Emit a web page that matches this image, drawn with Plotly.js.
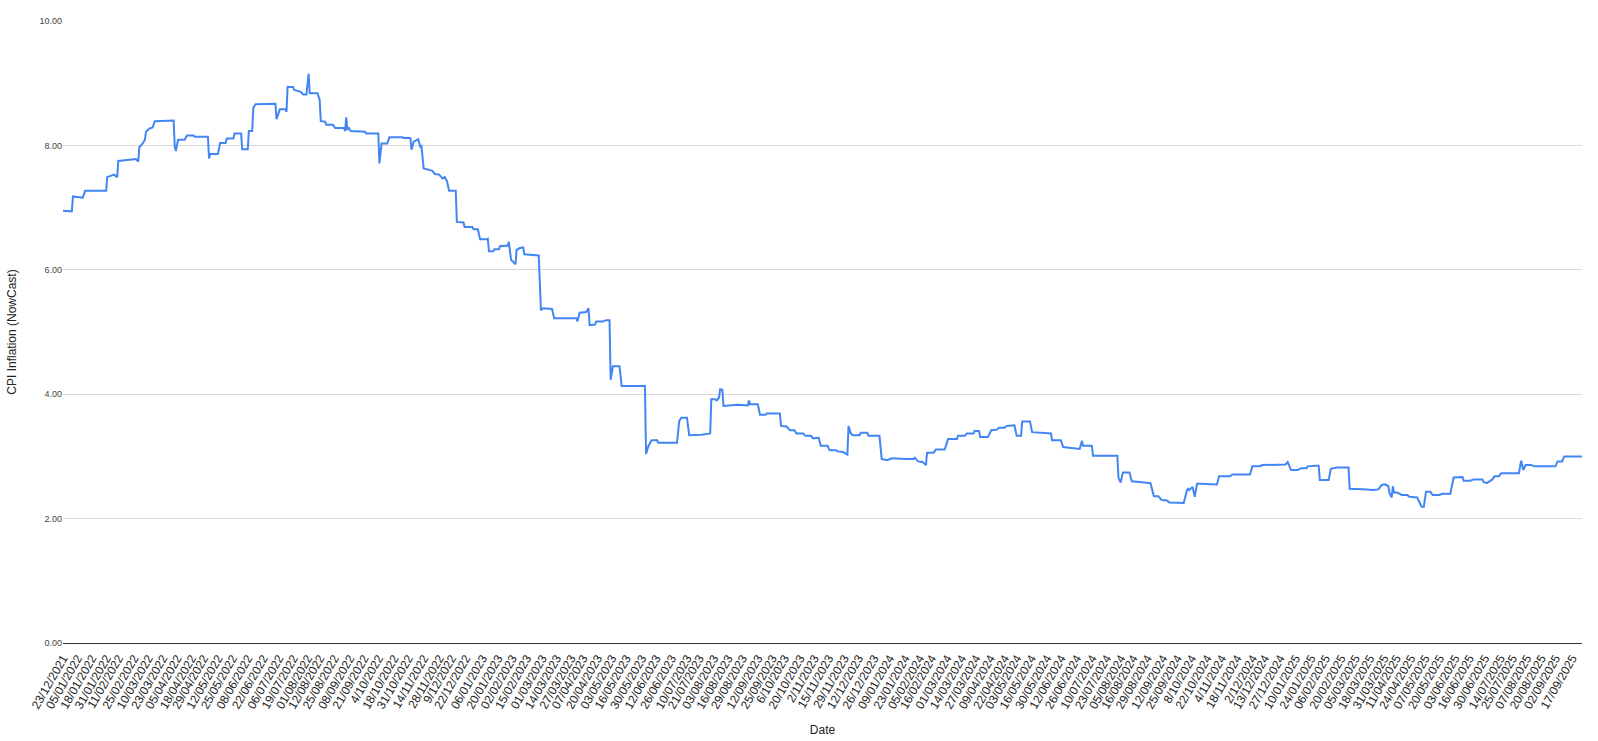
<!DOCTYPE html>
<html>
<head>
<meta charset="utf-8">
<script src="https://cdn.plot.ly/plotly-3.0.1.min.js"></script>
<style>
  html, body { margin: 0; padding: 0; background: #ffffff; }
  #chart { width: 1598px; height: 741px; }
</style>
</head>
<body>
<div id="chart"></div>
<script>
const dates = [
  "2021-12-23","2021-12-31","2022-01-01","2022-01-10","2022-01-12","2022-01-31","2022-02-01","2022-02-07","2022-02-10","2022-02-11",
  "2022-02-27","2022-03-01","2022-03-02","2022-03-05","2022-03-07","2022-03-08","2022-03-11","2022-03-14","2022-03-16","2022-04-02",
  "2022-04-03","2022-04-04","2022-04-06","2022-04-12","2022-04-14","2022-04-20","2022-04-21","2022-05-03","2022-05-04","2022-05-05",
  "2022-05-12","2022-05-14","2022-05-19","2022-05-20","2022-05-26","2022-05-27","2022-06-02","2022-06-03","2022-06-08","2022-06-09",
  "2022-06-12","2022-06-13","2022-06-15","2022-07-03","2022-07-04","2022-07-07","2022-07-12","2022-07-13","2022-07-14","2022-07-19",
  "2022-07-20","2022-07-26","2022-07-28","2022-07-31","2022-08-02","2022-08-03","2022-08-10","2022-08-12","2022-08-13","2022-08-17",
  "2022-08-18","2022-08-24","2022-08-26","2022-09-03","2022-09-04","2022-09-05","2022-09-06","2022-09-07","2022-09-09","2022-09-22",
  "2022-09-23","2022-10-04","2022-10-05","2022-10-07","2022-10-12","2022-10-14","2022-10-26","2022-10-27","2022-11-02","2022-11-03",
  "2022-11-05","2022-11-08","2022-11-09","2022-11-11","2022-11-12","2022-11-14","2022-11-22","2022-11-24","2022-11-28","2022-12-01",
  "2022-12-03","2022-12-05","2022-12-07","2022-12-13","2022-12-14","2022-12-20","2022-12-21","2022-12-28","2022-12-29","2023-01-02",
  "2023-01-04","2023-01-10","2023-01-11","2023-01-12","2023-01-16","2023-01-17","2023-01-21","2023-01-22","2023-01-29","2023-01-30",
  "2023-02-01","2023-02-05","2023-02-06","2023-02-09","2023-02-12","2023-02-13","2023-02-25","2023-02-26","2023-02-28","2023-03-02",
  "2023-03-10","2023-03-12","2023-04-01","2023-04-02","2023-04-04","2023-04-10","2023-04-12","2023-04-13","2023-04-18","2023-04-19",
  "2023-04-25","2023-04-28","2023-05-01","2023-05-02","2023-05-04","2023-05-10","2023-05-12","2023-06-02","2023-06-03","2023-06-05",
  "2023-06-08","2023-06-13","2023-06-14","2023-07-01","2023-07-03","2023-07-05","2023-07-10","2023-07-12","2023-07-23","2023-07-31",
  "2023-08-01","2023-08-04","2023-08-06","2023-08-08","2023-08-09","2023-08-11","2023-08-12","2023-08-25","2023-09-03","2023-09-04",
  "2023-09-05","2023-09-12","2023-09-14","2023-09-19","2023-09-20","2023-10-02","2023-10-03","2023-10-08","2023-10-11","2023-10-15",
  "2023-10-17","2023-10-23","2023-10-25","2023-10-30","2023-11-01","2023-11-06","2023-11-08","2023-11-14","2023-11-16","2023-11-22",
  "2023-11-23","2023-11-28","2023-12-02","2023-12-03","2023-12-05","2023-12-07","2023-12-13","2023-12-14","2023-12-20","2023-12-21",
  "2023-12-31","2024-01-02","2024-01-07","2024-01-11","2024-01-24","2024-01-31","2024-02-01","2024-02-04","2024-02-08","2024-02-11",
  "2024-02-12","2024-02-18","2024-02-20","2024-02-28","2024-03-02","2024-03-10","2024-03-11","2024-03-17","2024-03-19","2024-03-25",
  "2024-03-26","2024-03-30","2024-03-31","2024-04-07","2024-04-10","2024-04-15","2024-04-17","2024-04-22","2024-04-24","2024-05-01",
  "2024-05-03","2024-05-07","2024-05-08","2024-05-15","2024-05-17","2024-05-24","2024-05-31","2024-06-03","2024-06-04","2024-06-12",
  "2024-06-14","2024-06-20","2024-06-29","2024-07-01","2024-07-02","2024-07-10","2024-07-11","2024-08-02","2024-08-03","2024-08-05",
  "2024-08-07","2024-08-13","2024-08-15","2024-08-22","2024-08-30","2024-09-01","2024-09-04","2024-09-08","2024-09-11","2024-09-16",
  "2024-09-18","2024-09-25","2024-10-01","2024-10-04","2024-10-05","2024-10-06","2024-10-09","2024-10-11","2024-10-13","2024-10-16",
  "2024-10-31","2024-11-02","2024-11-12","2024-11-14","2024-11-30","2024-12-02","2024-12-09","2024-12-11","2025-01-01","2025-01-03",
  "2025-01-06","2025-01-12","2025-01-15","2025-01-20","2025-01-21","2025-01-28","2025-01-31","2025-02-01","2025-02-09","2025-02-11",
  "2025-02-16","2025-02-27","2025-02-28","2025-03-12","2025-03-21","2025-03-26","2025-03-29","2025-04-01","2025-04-04","2025-04-05",
  "2025-04-07","2025-04-08","2025-04-09","2025-04-12","2025-04-16","2025-04-21","2025-04-23","2025-04-30","2025-05-02","2025-05-04",
  "2025-05-06","2025-05-08","2025-05-12","2025-05-14","2025-05-20","2025-05-23","2025-05-30","2025-06-02","2025-06-10","2025-06-11",
  "2025-06-17","2025-06-20","2025-06-28","2025-06-29","2025-07-02","2025-07-05","2025-07-07","2025-07-09","2025-07-13","2025-07-15",
  "2025-07-31","2025-08-02","2025-08-04","2025-08-06","2025-08-11","2025-08-14","2025-09-02","2025-09-04","2025-09-08","2025-09-10",
  "2025-09-26"
];

// CPI inflation (NowCast) values, %
const cpiNowcast = [
  6.95,6.94,7.18,7.16,7.27,7.27,7.49,7.53,7.49,7.75,
  7.78,7.74,7.97,8.03,8.09,8.22,8.27,8.29,8.39,8.40,
  7.98,7.91,8.09,8.09,8.16,8.16,8.14,8.14,7.79,7.86,
  7.86,8.04,8.04,8.11,8.11,8.19,8.19,7.94,7.94,8.23,
  8.23,8.60,8.66,8.67,8.42,8.58,8.58,8.54,8.94,8.94,
  8.89,8.86,8.82,8.82,9.15,8.84,8.84,8.73,8.39,8.38,
  8.33,8.33,8.28,8.28,8.23,8.45,8.25,8.29,8.23,8.22,
  8.19,8.19,7.71,8.03,8.03,8.13,8.13,8.12,8.12,7.93,
  8.06,8.09,8.10,7.98,7.99,7.63,7.59,7.54,7.53,7.47,
  7.49,7.43,7.27,7.27,6.77,6.76,6.69,6.69,6.65,6.65,
  6.49,6.49,6.50,6.30,6.30,6.33,6.33,6.38,6.39,6.45,
  6.16,6.09,6.32,6.35,6.36,6.25,6.24,6.23,5.35,5.38,
  5.37,5.22,5.22,5.17,5.31,5.32,5.38,5.11,5.12,5.17,
  5.17,5.19,5.19,4.23,4.45,4.45,4.13,4.13,3.04,3.16,
  3.26,3.26,3.22,3.22,3.57,3.62,3.62,3.34,3.35,3.37,
  3.92,3.92,3.90,3.95,4.08,4.07,3.81,3.83,3.82,3.90,
  3.84,3.84,3.67,3.67,3.69,3.69,3.49,3.48,3.42,3.42,
  3.37,3.37,3.33,3.33,3.29,3.30,3.17,3.17,3.10,3.10,
  3.08,3.07,3.03,3.49,3.37,3.34,3.34,3.38,3.38,3.33,
  3.33,2.96,2.94,2.97,2.96,2.96,2.98,2.92,2.91,2.86,
  3.06,3.06,3.11,3.11,3.28,3.28,3.33,3.33,3.37,3.37,
  3.41,3.41,3.31,3.31,3.42,3.43,3.46,3.46,3.49,3.50,
  3.33,3.33,3.56,3.56,3.39,3.38,3.37,3.37,3.26,3.26,
  3.15,3.14,3.12,3.25,3.17,3.17,3.01,3.01,2.66,2.58,
  2.74,2.74,2.60,2.59,2.57,2.57,2.36,2.36,2.30,2.29,
  2.26,2.26,2.25,2.46,2.48,2.46,2.51,2.35,2.56,2.56,
  2.55,2.68,2.68,2.71,2.71,2.84,2.84,2.86,2.87,2.91,
  2.78,2.78,2.81,2.81,2.84,2.85,2.85,2.62,2.62,2.80,
  2.82,2.82,2.48,2.47,2.46,2.47,2.54,2.55,2.52,2.41,
  2.34,2.52,2.42,2.42,2.38,2.38,2.35,2.34,2.25,2.19,
  2.19,2.43,2.43,2.38,2.38,2.40,2.40,2.66,2.67,2.61,
  2.61,2.63,2.63,2.59,2.57,2.61,2.63,2.68,2.68,2.73,
  2.73,2.93,2.78,2.86,2.86,2.84,2.84,2.92,2.92,3.00,
  3.00
];

// Category tick labels shown on the x axis
const tickLabels = [
  "23/12/2021","05/01/2022","18/01/2022","31/01/2022","11/02/2022","25/02/2022","10/03/2022","23/03/2022","05/04/2022","18/04/2022",
  "29/04/2022","12/05/2022","25/05/2022","08/06/2022","22/06/2022","06/07/2022","19/07/2022","01/08/2022","12/08/2022","25/08/2022",
  "08/09/2022","21/09/2022","4/10/2022","18/10/2022","31/10/2022","14/11/2022","28/11/2022","9/12/2022","22/12/2022","06/01/2023",
  "20/01/2023","02/02/2023","15/02/2023","01/03/2023","14/03/2023","27/03/2023","07/04/2023","20/04/2023","03/05/2023","16/05/2023",
  "30/05/2023","12/06/2023","26/06/2023","10/07/2023","21/07/2023","03/08/2023","16/08/2023","29/08/2023","12/09/2023","25/09/2023",
  "6/10/2023","20/10/2023","2/11/2023","15/11/2023","29/11/2023","12/12/2023","26/12/2023","09/01/2024","23/01/2024","05/02/2024",
  "16/02/2024","01/03/2024","14/03/2024","27/03/2024","09/04/2024","22/04/2024","03/05/2024","16/05/2024","30/05/2024","12/06/2024",
  "26/06/2024","10/07/2024","23/07/2024","05/08/2024","16/08/2024","29/08/2024","12/09/2024","25/09/2024","8/10/2024","22/10/2024",
  "4/11/2024","18/11/2024","2/12/2024","13/12/2024","27/12/2024","10/01/2025","24/01/2025","06/02/2025","20/02/2025","05/03/2025",
  "18/03/2025","31/03/2025","11/04/2025","24/04/2025","07/05/2025","20/05/2025","03/06/2025","16/06/2025","30/06/2025","14/07/2025",
  "25/07/2025","07/08/2025","20/08/2025","02/09/2025","17/09/2025"
];

const yTicks = [0, 2, 4, 6, 8, 10];

function toIso(label) {
  const p = label.split('/');
  return p[2] + '-' + p[1].padStart(2, '0') + '-' + p[0].padStart(2, '0');
}
const tickVals = tickLabels.map(toIso);

const FONT = '"Liberation Sans", Arial, sans-serif';

const trace = {
  type: 'scatter',
  mode: 'lines',
  x: dates,
  y: cpiNowcast,
  line: { color: '#4285F4', width: 2 },
  hoverinfo: 'x+y',
  showlegend: false
};

const layout = {
  width: 1598,
  height: 741,
  margin: { l: 63, r: 16, t: 21, b: 98, pad: 0 },
  paper_bgcolor: '#ffffff',
  plot_bgcolor: '#ffffff',
  font: { family: FONT, color: '#222222' },
  showlegend: false,
  xaxis: {
    type: 'date',
    range: [dates[0], dates[dates.length - 1]],
    tickmode: 'array',
    tickvals: tickVals,
    ticktext: tickLabels,
    tickangle: -60,
    tickfont: { family: FONT, size: 12, color: '#222222' },
    ticks: '',
    ticklabelstandoff: 5,
    showgrid: false,
    zeroline: false,
    showline: false,
    automargin: false,
    title: { text: 'Date', font: { family: FONT, size: 12, color: '#222222' }, standoff: 15 }
  },
  yaxis: {
    range: [0, 10],
    tickmode: 'array',
    tickvals: yTicks,
    tickformat: '.2f',
    tickfont: { family: FONT, size: 9, color: '#444444' },
    ticks: '',
    showgrid: true,
    gridcolor: '#d9d9d9',
    gridwidth: 1,
    zeroline: true,
    zerolinecolor: '#333333',
    zerolinewidth: 1,
    showline: false,
    automargin: false,
    title: { text: 'CPI Inflation (NowCast)', font: { family: FONT, size: 12, color: '#222222' }, standoff: 20 }
  }
};

Plotly.newPlot('chart', [trace], layout, { displayModeBar: false, staticPlot: true });
</script>
</body>
</html>
